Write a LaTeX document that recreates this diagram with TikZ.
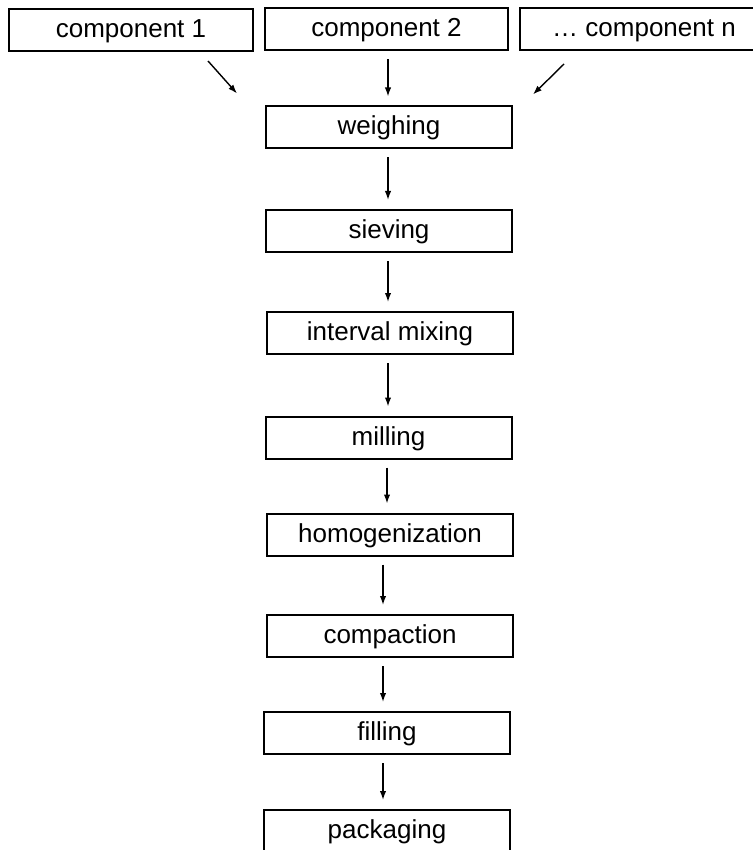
\documentclass[tikz,border=0pt]{standalone}
\usepackage{fontspec}
\setmainfont{Liberation Sans}
\usetikzlibrary{arrows.meta}

\tikzset{
  stepbox/.style={draw, line width=1pt, minimum width=123pt, minimum height=21pt, inner sep=0pt,
    text height=10.5pt, text depth=3pt, font=\fontsize{13}{15}\selectfont},
  flow/.style={line width=0.7pt, -{Latex[length=4.5pt,width=3.2pt]}, shorten <=4pt, shorten >=4.5pt}
}

\begin{document}
\begin{tikzpicture}[x=0.5pt, y=-0.5pt]
  \useasboundingbox (0,0) rectangle (753,850);
  % inputs
  \node [stepbox, minimum width=122pt] (comp1) at (131,30) {component 1};
  \node [stepbox, minimum width=121.5pt] (comp2) at (386.5,29.5) {component 2};
  \node [stepbox, minimum width=124pt] (compn) at (644,29) {\dots{} component n};
  % process chain
  \node [stepbox] (weighing) at (389,127.5) {weighing};
  \node [stepbox] (sieving) at (389,231) {sieving};
  \node [stepbox] (mixing) at (390,333) {interval mixing};
  \node [stepbox] (milling) at (388.5,437.5) {milling};
  \node [stepbox] (homog) at (390,534.5) {homogenization};
  \node [stepbox] (compaction) at (390,636) {compaction};
  \node [stepbox] (filling) at (387,733) {filling};
  \node [stepbox] (packaging) at (387,831) {packaging};

  \draw [flow, shorten <=0pt, shorten >=0pt] ([xshift=-23pt, yshift=-4.5pt]comp1.south east) -- ([xshift=-14pt, yshift=6pt]weighing.north west);
  \draw [flow, shorten <=0pt, shorten >=0pt] ([xshift=22.5pt, yshift=-6.5pt]compn.south west) -- ([xshift=10pt, yshift=5.5pt]weighing.north east);
  \draw [flow] ([xshift=0.75pt]comp2.south) -- ([xshift=-0.5pt]weighing.north);
  \draw [flow] ([xshift=-0.5pt]weighing.south) -- ([xshift=-0.5pt]sieving.north);
  \draw [flow] ([xshift=-0.5pt]sieving.south) -- ([xshift=-1pt]mixing.north);
  \draw [flow] ([xshift=-1pt]mixing.south) -- ([xshift=-0.25pt]milling.north);
  \draw [flow] ([xshift=-0.75pt]milling.south) -- ([xshift=-1.5pt]homog.north);
  \draw [flow] ([xshift=-3.5pt]homog.south) -- ([xshift=-3.5pt]compaction.north);
  \draw [flow] ([xshift=-3.5pt]compaction.south) -- ([xshift=-2pt]filling.north);
  \draw [flow] ([xshift=-2pt]filling.south) -- ([xshift=-2pt]packaging.north);
\end{tikzpicture}
\end{document}
